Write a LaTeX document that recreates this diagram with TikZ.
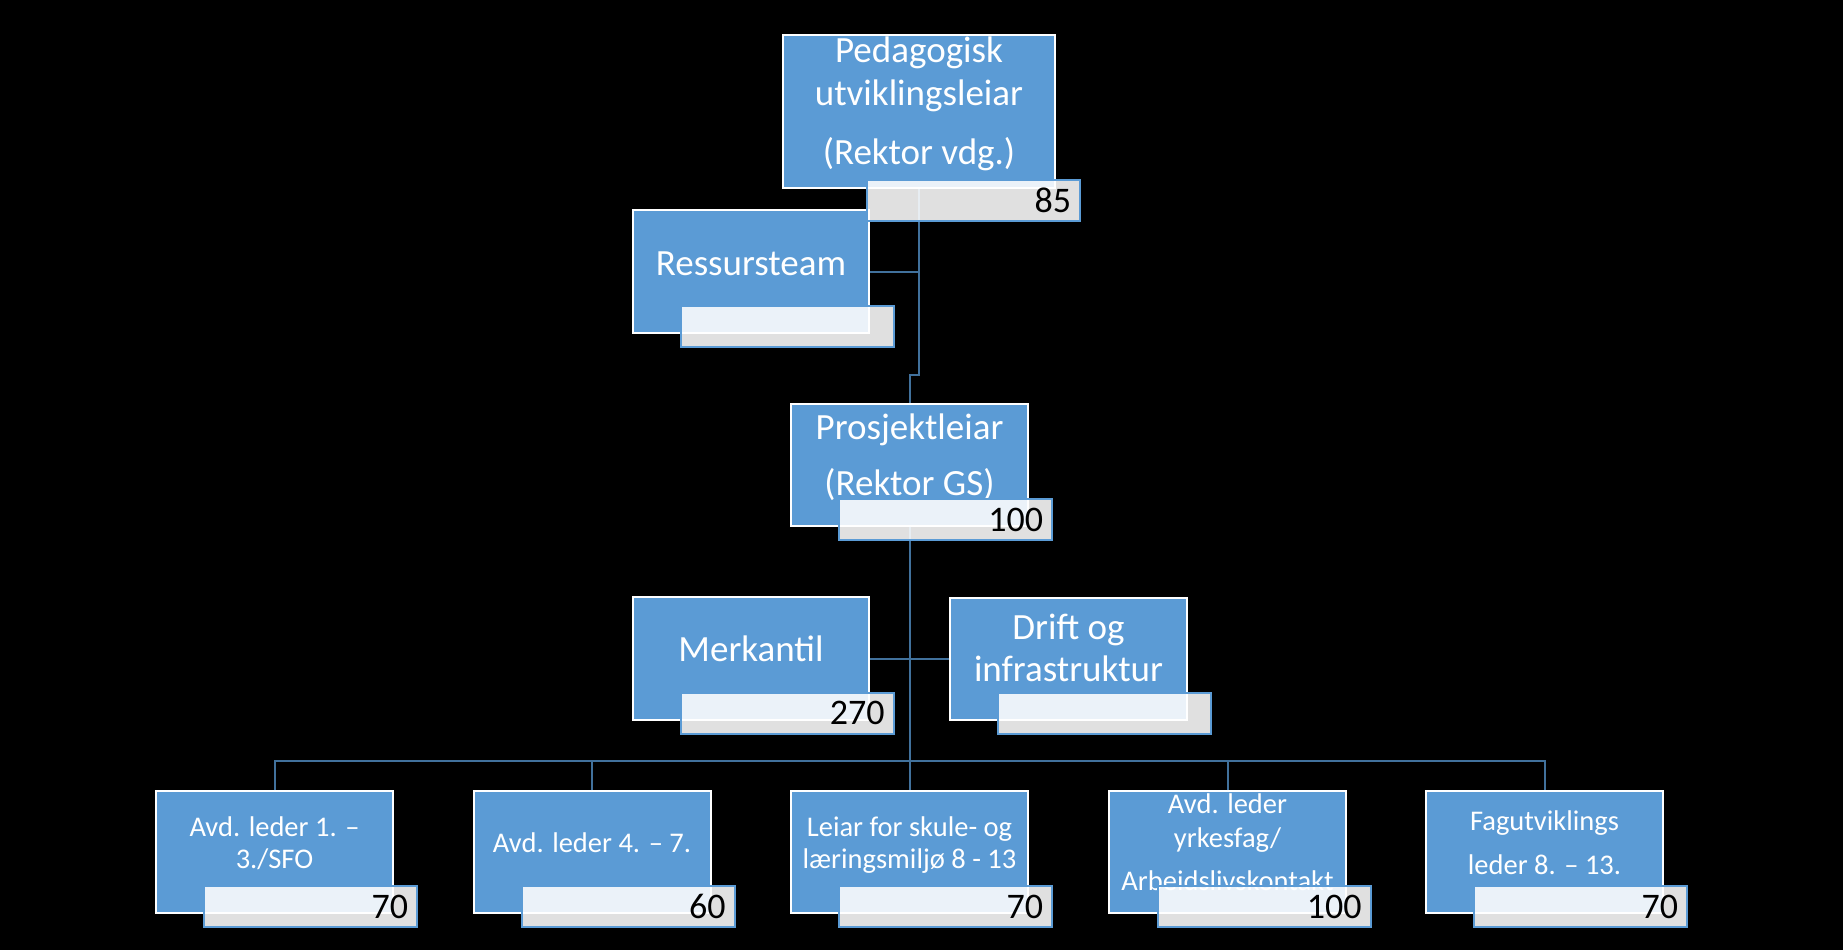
\documentclass[tikz,border=0pt]{standalone}
\usepackage{fontspec}
\setmainfont{Carlito}
\usetikzlibrary{calc}
\definecolor{boxblue}{RGB}{91,155,213}
\definecolor{linkblue}{RGB}{65,113,156}
\newcommand\stk[1]{\vtop{\halign{\hfil##\hfil\cr#1\crcr}}}
\tikzset{
  bluebox/.style={draw=white, line width=2pt, fill=boxblue, inner sep=0pt,
    minimum width=237pt, minimum height=122pt},
  valbox/.style={draw=boxblue, line width=2pt, fill=white, fill opacity=0.88,
    text opacity=1, inner sep=0pt, minimum width=213pt, minimum height=41pt,
    text width=195pt, align=right, font=\fontsize{36}{40}\selectfont, text=black},
  bigtxt/.style={text=white, inner sep=0pt, anchor=base,
    font=\fontsize{37}{42.5}\selectfont},
  smalltxt/.style={text=white, inner sep=0pt, anchor=base,
    font=\fontsize{28.5}{32}\selectfont},
  conn/.style={draw=linkblue, line width=2pt},
}
\begin{document}
\begin{tikzpicture}[x=1pt,y=-1pt]
\useasboundingbox (0,0) rectangle (1843,950);
\fill[black] (0,0) rectangle (1843,950);

% blue boxes
\node[bluebox, minimum width=272pt, minimum height=153pt] (T) at (919,111.5) {};
\node[bluebox, minimum width=236pt, minimum height=123pt] (R) at (751,271.5) {};
\node[bluebox] (P) at (909.5,464.5) {};
\node[bluebox, minimum width=236pt, minimum height=123pt] (M) at (751,658.5) {};
\node[bluebox] (D) at (1068.5,658.5) {};
\node[bluebox] (B1) at (274.5,852) {};
\node[bluebox] (B2) at (592,852) {};
\node[bluebox] (B3) at (909.5,852) {};
\node[bluebox] (B4) at (1227.5,852) {};
\node[bluebox] (B5) at (1544.5,852) {};

% texts
\node[bigtxt] (tT) at (919,63) {\stk{Pedagogisk\cr utviklingsleiar\cr\noalign{\vskip16.5pt}(Rektor vdg.)}};
\node[bigtxt] (tR) at (751,275) {Ressursteam};
\node[bigtxt] (tP) at (909.5,439) {\stk{Prosjektleiar\cr\noalign{\vskip13.5pt}(Rektor GS)}};
\node[bigtxt] (tM) at (751,661) {Merkantil};
\node[bigtxt] (tD) at (1068.5,639) {\stk{Drift og\cr infrastruktur}};
\node[smalltxt] (t1) at (274.5,836) {\stk{Avd. leder 1. –\cr 3./SFO}};
\node[smalltxt] (t2) at (592,852) {Avd. leder 4. – 7.};
\node[smalltxt] (t3) at (909.5,836) {\stk{Leiar for skule- og\cr læringsmiljø 8 - 13}};
\node[smalltxt] (t4) at (1227.5,813) {\stk{Avd. leder\cr\noalign{\vskip2pt}yrkesfag/\cr\noalign{\vskip11pt}Arbeidslivskontakt}};
\node[smalltxt] (t5) at (1544.5,830) {\stk{Fagutviklings\cr\noalign{\vskip12pt}leder 8. – 13.}};

% connectors
\coordinate (J1) at (919,375);
\coordinate (J2) at (909.5,375);
\coordinate (BUS) at (909.5,761);
\draw[conn] (T.south) -- (J1) -- (J2) -- (P.north);
\draw[conn] (R.east) -- (R.east -| J1);
\draw[conn] (P.south) -- (B3.north);
\draw[conn] (M.east) -- (D.west);
\draw[conn] (B1.north) -- (B1.north |- BUS) -- (B5.north |- BUS) -- (B5.north);
\draw[conn] (B2.north) -- (B2.north |- BUS);
\draw[conn] (B4.north) -- (B4.north |- BUS);

% value boxes
\node[valbox] (V0) at (973.5,200.5) {85};
\node[valbox] (VR) at (787,326.5) {};
\node[valbox] (VP) at (945.5,519.5) {100};
\node[valbox] (VM) at (787,713) {270};
\node[valbox] (VD) at (1104.5,713) {};
\node[valbox] (V1) at (310.5,906.5) {70};
\node[valbox] (V2) at (628,906.5) {60};
\node[valbox] (V3) at (945.5,906.5) {70};
\node[valbox] (V4) at (1264,906.5) {100};
\node[valbox] (V5) at (1580.5,906.5) {70};
\end{tikzpicture}
\end{document}
